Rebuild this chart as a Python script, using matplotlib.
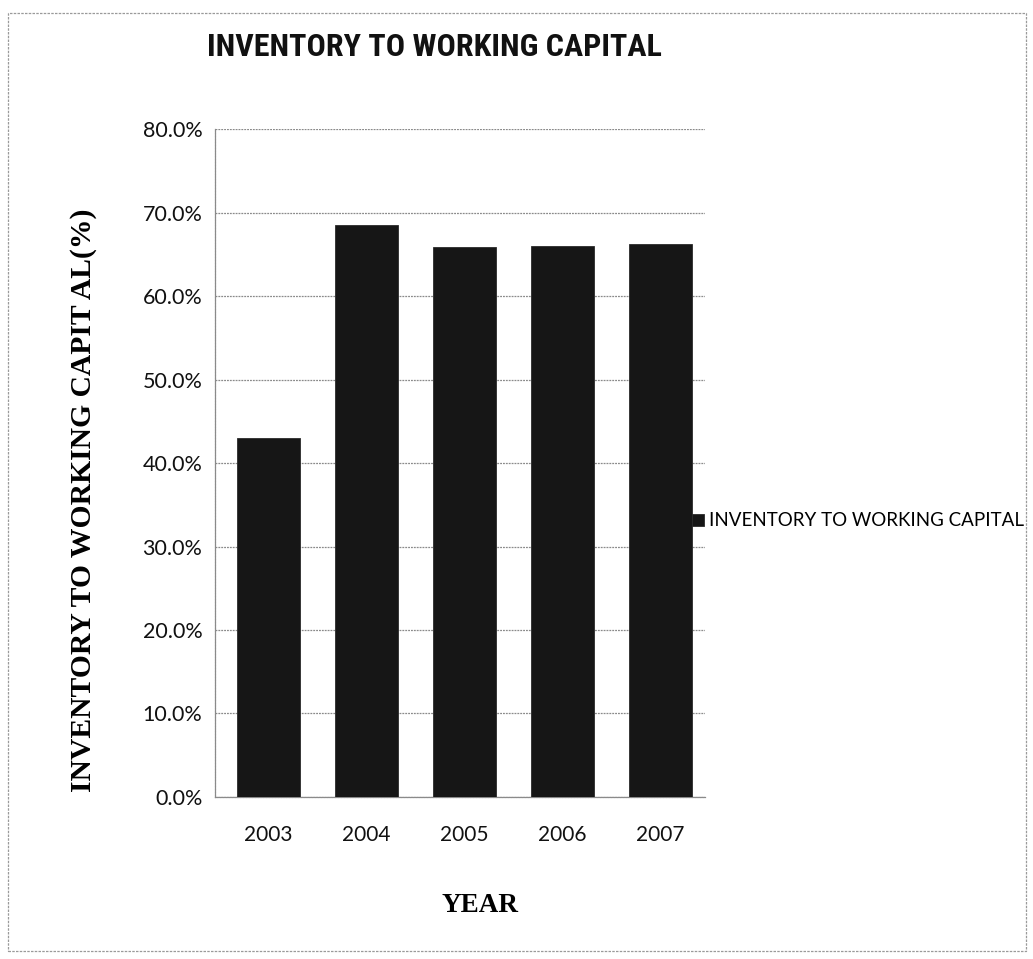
import matplotlib
matplotlib.use("Agg")
import matplotlib.pyplot as plt
from matplotlib.patches import Rectangle
from matplotlib.ticker import FuncFormatter, MultipleLocator

# Inventory to working capital ratio (%) by year
years = ["2003", "2004", "2005", "2006", "2007"]
ratio_pct = [43.0, 68.6, 65.9, 66.0, 66.3]

title = "INVENTORY TO WORKING CAPITAL"
series_name = "INVENTORY TO WORKING CAPITAL"
y_label = "INVENTORY TO WORKING CAPIT AL(%)"
x_label = "YEAR"

SANS = ["Lato", "DejaVu Sans"]
NARROW = ["Roboto Condensed", "Roboto", "DejaVu Sans"]
SERIF = ["Liberation Serif", "DejaVu Serif"]
BAR = "#161616"
GRID = "#8a8a8a"

fig = plt.figure(figsize=(10.33, 9.59), dpi=100)
fig.patch.set_facecolor("white")

# outer chart frame
fig.patches.append(Rectangle((0.008, 0.008), 0.985, 0.978, transform=fig.transFigure,
                             fill=False, edgecolor="#9a9a9a", linewidth=0.9,
                             linestyle=(0, (2, 1))))

ax = fig.add_axes([0.208, 0.169, 0.474, 0.696])
bars = ax.bar(years, ratio_pct, width=0.64, color=BAR, edgecolor="#2a2a2a",
              linewidth=0.6, label=series_name, zorder=3)

ax.set_ylim(0, 80)
ax.set_xlim(-0.55, 4.45)
ax.yaxis.set_major_locator(MultipleLocator(10))
ax.yaxis.set_major_formatter(FuncFormatter(lambda v, _: f"{v:.1f}%"))
ax.grid(axis="y", color=GRID, linewidth=0.9, linestyle=(0, (1.5, 0.8)), zorder=0)
ax.set_axisbelow(True)

for side in ("top", "right"):
    ax.spines[side].set_visible(False)
for side in ("left", "bottom"):
    ax.spines[side].set_color(GRID)
    ax.spines[side].set_linewidth(0.9)
    ax.spines[side].set_linestyle((0, (1.5, 0.8)))

ax.tick_params(axis="both", length=0)
ax.tick_params(axis="y", pad=9, labelsize=15.5)
ax.tick_params(axis="x", pad=20, labelsize=15)
for lab in ax.get_yticklabels() + ax.get_xticklabels():
    lab.set_family(SANS)
    lab.set_color("#111111")

ax.set_ylabel(y_label, family=SERIF, fontweight="bold", fontsize=21.3)
ax.yaxis.set_label_coords(-0.241, 0.445)
ax.set_xlabel(x_label, family=SERIF, fontweight="bold", fontsize=19.5)
ax.xaxis.set_label_coords(0.541, -0.144)

fig.text(0.421, 0.951, title, family=NARROW, fontweight="bold",
         fontstretch="condensed", fontsize=23,
         ha="center", va="center", color="#111111")

leg = ax.legend(loc="center left", bbox_to_anchor=(0.663, 0.457),
                bbox_transform=fig.transFigure, frameon=False,
                prop={"family": SANS, "size": 13.5}, handlelength=0.6,
                handleheight=0.6, handletextpad=0.3, borderaxespad=0)

fig.savefig("out.png", dpi=100, facecolor="white")
